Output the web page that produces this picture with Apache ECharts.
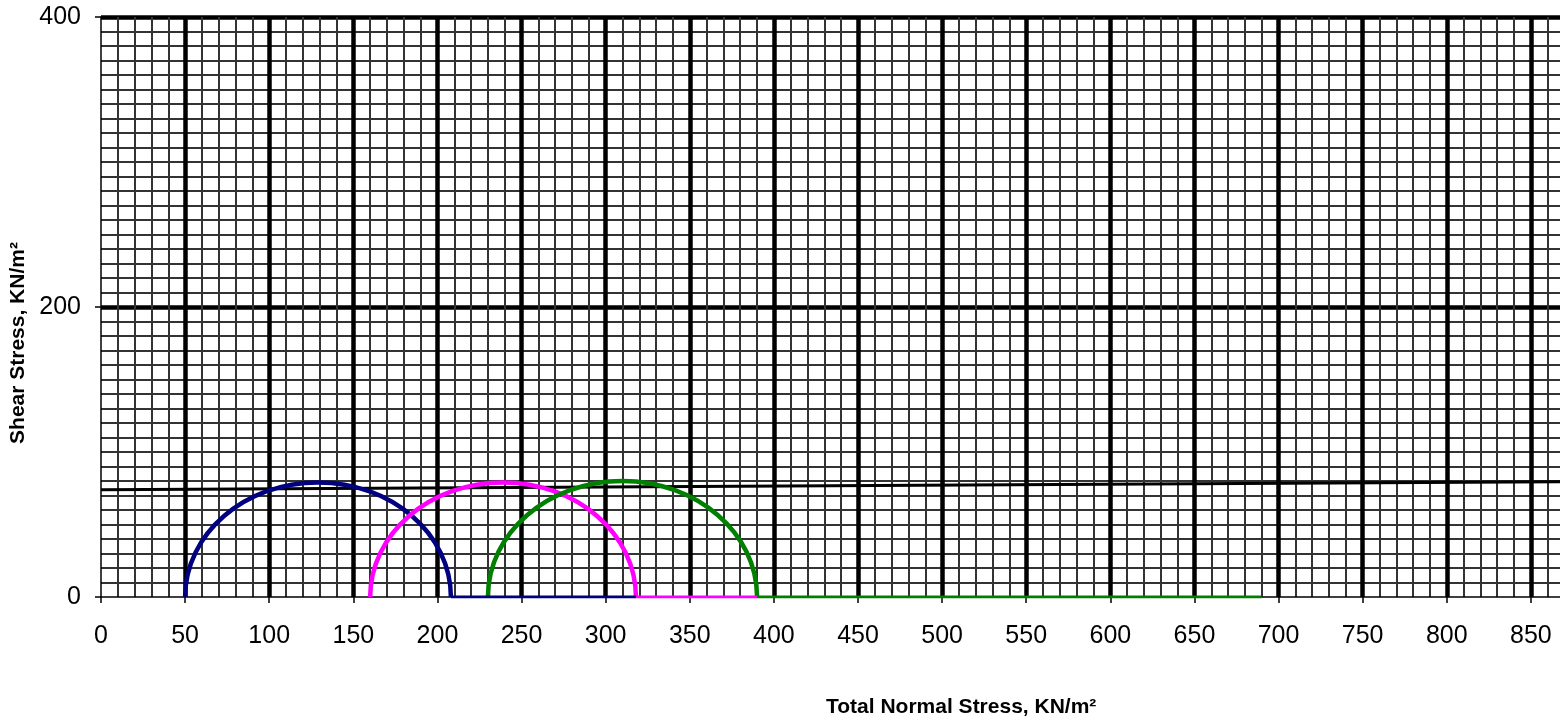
<!DOCTYPE html>
<html>
<head>
<meta charset="utf-8">
<script src="https://cdn.jsdelivr.net/npm/echarts@6/dist/echarts.min.js"></script>
<style>
  html, body { margin: 0; padding: 0; background: #fff; }
  #chart { width: 1560px; height: 726px; }
</style>
</head>
<body>
<div id="chart"></div>
<script>
// Mohr circles: minor and major principal stress of each test (kN/m²)
const circleNames = ['Test 1', 'Test 2', 'Test 3'];
const sigma3 = [50, 160, 230];
const sigma1 = [208, 318, 390];
const circleColors = ['#000080', '#ff00ff', '#008000'];

// Zero-shear segments drawn after each circle
const flatStart = [208, 318, 390];
const flatEnd = [318, 390, 690];

// Failure envelope (normal stress, shear stress)
const envelopeX = [0, 900];
const envelopeY = [74, 79.7];

// Axis ticks
const xMin = 0, xMax = 900, xStep = 50;
const yMin = 0, yMax = 400, yStep = 200;

const fontFamily = '"Liberation Sans", Arial, sans-serif';

const chart = echarts.init(document.getElementById('chart'), null, { renderer: 'canvas' });

const circleSeries = {
  type: 'custom',
  name: 'circles',
  clip: true,
  z: 3,
  data: sigma3.map((s3, i) => [s3, sigma1[i], i]),
  encode: { x: [0, 1] },
  renderItem: function (params, api) {
    const s3 = api.value(0), s1 = api.value(1), idx = api.value(2);
    const r = (s1 - s3) / 2;
    const c = api.coord([s3 + r, 0]);
    const rx = api.size([r, 0])[0];
    const ry = api.size([0, r])[1];
    return {
      type: 'ellipse',
      shape: { cx: c[0], cy: c[1], rx: rx, ry: ry },
      style: { fill: null, stroke: circleColors[idx], lineWidth: 4.5 }
    };
  }
};

const flatSeries = flatStart.map((s, i) => ({
  type: 'line',
  name: circleNames[i] + ' base',
  z: 3,
  symbol: 'none',
  silent: true,
  lineStyle: { color: circleColors[i], width: 3 },
  data: [[s, 0], [flatEnd[i], 0]]
}));

const envelopeSeries = {
  type: 'line',
  name: 'envelope',
  z: 2,
  symbol: 'none',
  silent: true,
  lineStyle: { color: '#000', width: 3 },
  data: envelopeX.map((x, i) => [x, envelopeY[i]])
};

const option = {
  animation: false,
  backgroundColor: '#fff',
  grid: {
    left: 101,
    top: 17,
    bottom: 129,
    right: -55,
    containLabel: false,
    outerBoundsMode: 'none'
  },
  xAxis: {
    type: 'value',
    min: xMin,
    max: xMax,
    interval: xStep,
    axisLine: { show: true, onZero: false, lineStyle: { color: '#000', width: 1.5 } },
    axisTick: { show: true, length: 6, lineStyle: { color: '#000', width: 1.5 } },
    axisLabel: { margin: 27, fontSize: 25, color: '#000', fontFamily: fontFamily },
    splitLine: { show: true, showMinLine: false, lineStyle: { color: '#000', width: 4.5 } },
    minorTick: { show: false, splitNumber: 5 },
    minorSplitLine: { show: true, lineStyle: { color: '#333', width: 2 } }
  },
  yAxis: {
    type: 'value',
    min: yMin,
    max: yMax,
    interval: yStep,
    axisLine: { show: true, lineStyle: { color: '#000', width: 1.5 } },
    axisTick: { show: true, length: 6, lineStyle: { color: '#000', width: 1.5 } },
    axisLabel: { margin: 20, fontSize: 25, color: '#000', fontFamily: fontFamily },
    splitLine: { show: true, showMinLine: false, lineStyle: { color: '#000', width: 4.5 } },
    minorTick: { show: false, splitNumber: 20 },
    minorSplitLine: { show: true, lineStyle: { color: '#333', width: 2 } }
  },
  graphic: [
    {
      type: 'text',
      left: 968 - 142,
      top: 697,
      style: {
        text: 'Total Normal Stress, KN/m²',
        font: 'bold 21px ' + fontFamily,
        fill: '#000'
      }
    },
    {
      type: 'text',
      x: 18,
      y: 343,
      rotation: Math.PI / 2,
      style: {
        text: 'Shear Stress, KN/m²',
        font: 'bold 21px ' + fontFamily,
        fill: '#000',
        align: 'center',
        verticalAlign: 'middle'
      }
    }
  ],
  series: [envelopeSeries].concat(flatSeries, [circleSeries])
};

chart.setOption(option);
</script>
</body>
</html>
